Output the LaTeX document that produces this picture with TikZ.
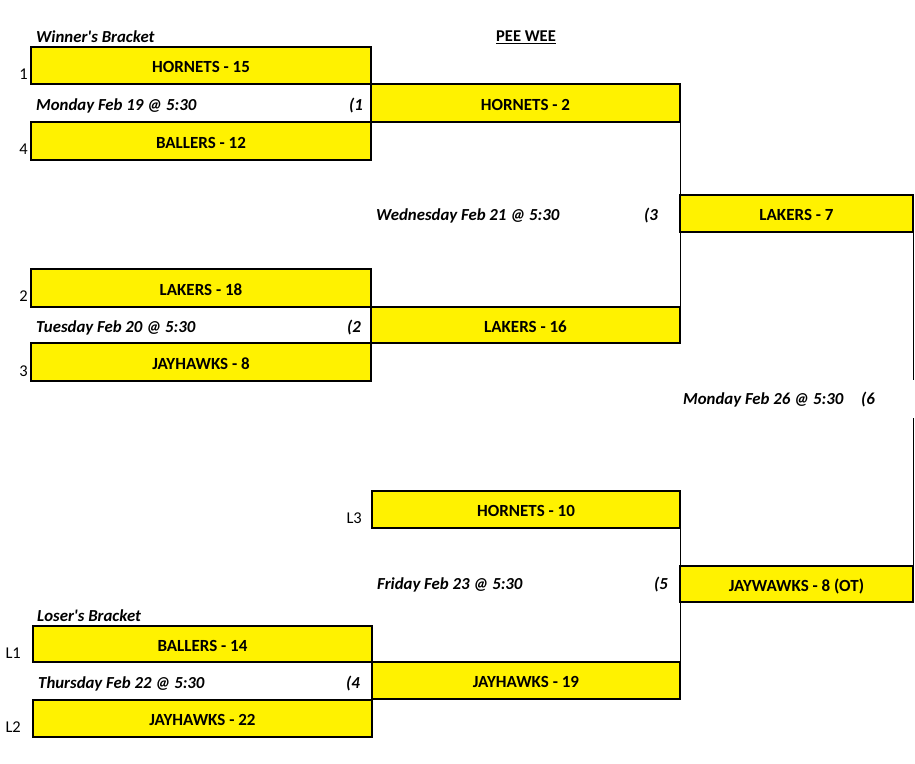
\documentclass[tikz,border=0pt]{standalone}
\usepackage{fontspec}
\setmainfont{Carlito}
\definecolor{tyellow}{RGB}{255,242,0}
\begin{document}
\begin{tikzpicture}[x=1pt,y=-1pt,
  teambox/.style={draw=black,line width=2pt,fill=tyellow,inner sep=0pt,outer sep=0pt,
    text depth=0pt,font=\fontsize{17}{19}\selectfont\bfseries},
  datelbl/.style={inner sep=0pt,font=\fontsize{16.8}{19}\selectfont\bfseries\itshape},
  seedlbl/.style={inner sep=0pt,font=\fontsize{16.5}{19}\selectfont},
  link/.style={draw=black,line width=1pt}]
\useasboundingbox (0,0) rectangle (915,763);
% boxes
\newcommand\teambox[6]{\node[teambox,minimum width=#4-#2,minimum height=#5-#3] (#1) at ({(#2+#4)/2},{(#3+#5)/2}) {\raisebox{-7pt}[0pt][0pt]{#6}};}
\teambox{h15}{31}{47}{371}{84}{HORNETS - 15}
\teambox{b12}{31}{122}{371}{160}{BALLERS - 12}
\teambox{h2}{371}{84}{680}{122}{HORNETS - 2}
\teambox{l18}{31}{269}{371}{307}{LAKERS - 18}
\teambox{j8}{31}{343}{371}{381}{JAYHAWKS - 8}
\teambox{l16}{371}{307}{680}{343}{LAKERS - 16}
\teambox{l7}{680}{195}{913}{232}{LAKERS - 7}
\teambox{h10}{372}{491}{680}{528}{HORNETS - 10}
\teambox{jot}{680}{566}{913}{602}{JAYWAWKS - 8 (OT)}
\teambox{j19}{372}{662}{680}{699}{JAYHAWKS - 19}
\teambox{b14}{33}{626}{372}{662}{BALLERS - 14}
\teambox{j22}{33}{700}{372}{737}{JAYHAWKS - 22}
% connectors
\coordinate (g6a) at (913,380);
\coordinate (g6b) at (913,418);
\draw[link] (h2.south east) -- (l16.north east);
\draw[link] (l7.south east) -- (g6a);
\draw[link] (g6b) -- (jot.north east);
\draw[link] (h10.south east) -- (j19.north east);
% titles
\node[datelbl,anchor=west] (wb) at (36,37) {Winner\textquotesingle s Bracket};
\node[inner sep=0pt,font=\fontsize{16.5}{19}\selectfont\bfseries] (pw) at (526,37) {\underline{PEE WEE}};
\node[datelbl,anchor=west] (lb) at (37,616) {Loser\textquotesingle s Bracket};
% dates
\node[datelbl,anchor=west] (d1) at (36,106) {Monday Feb 19 @ 5:30};
\node[datelbl,anchor=east] (g1) at (363,106) {(1};
\node[datelbl,anchor=west] (d2) at (36,328) {Tuesday Feb 20 @ 5:30};
\node[datelbl,anchor=east] (g2) at (361,328) {(2};
\node[datelbl,anchor=west] (d3) at (376,216) {Wednesday Feb 21 @ 5:30};
\node[datelbl,anchor=east] (g3) at (658,216) {(3};
\node[datelbl,anchor=west] (d6) at (683,400) {Monday Feb 26 @ 5:30};
\node[datelbl,anchor=east] (g6) at (875,400) {(6};
\node[datelbl,anchor=west] (d5) at (377,585) {Friday Feb 23 @ 5:30};
\node[datelbl,anchor=east] (g5) at (668,585) {(5};
\node[datelbl,anchor=west] (d4) at (38,684) {Thursday Feb 22 @ 5:30};
\node[datelbl,anchor=east] (g4) at (360,684) {(4};
% seeds
\node[seedlbl,anchor=east] (s1) at (28,74) {1};
\node[seedlbl,anchor=east] (s4) at (28,149) {4};
\node[seedlbl,anchor=east] (s2) at (28,296) {2};
\node[seedlbl,anchor=east] (s3) at (28,371) {3};
\node[seedlbl,anchor=east] (sl3) at (362,518) {L3};
\node[seedlbl,anchor=east] (sl1) at (21,653) {L1};
\node[seedlbl,anchor=east] (sl2) at (21,727) {L2};
\end{tikzpicture}
\end{document}
